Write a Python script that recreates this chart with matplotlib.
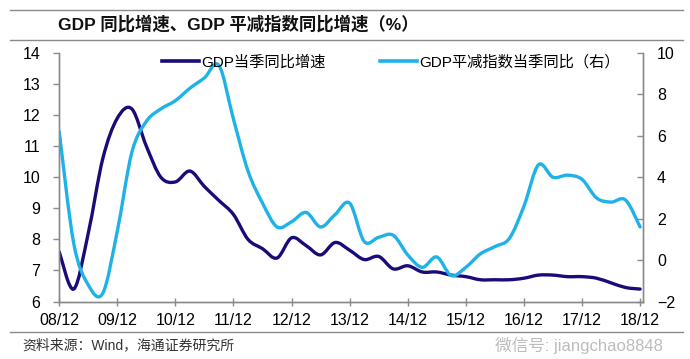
import matplotlib
matplotlib.use("Agg")
import matplotlib.pyplot as plt
from matplotlib.path import Path
from matplotlib.patches import PathPatch
from matplotlib.lines import Line2D

plt.rcParams['font.family'] = ['Liberation Sans', 'Noto Sans CJK SC', 'DejaVu Sans']

# ---- data (quarterly, 2008Q4 .. 2018Q4) ----
tick_labels = ["08/12", "09/12", "10/12", "11/12", "12/12", "13/12",
               "14/12", "15/12", "16/12", "17/12", "18/12"]
gdp_yoy = [7.6, 6.4, 8.2, 10.6, 11.9, 12.2, 11.0, 10.0, 9.85, 10.2, 9.7,
           9.25, 8.8, 8.0, 7.7, 7.4, 8.05, 7.8, 7.5, 7.9, 7.65, 7.35, 7.45,
           7.05, 7.15, 6.95, 6.95, 6.85, 6.8, 6.7, 6.7, 6.7, 6.75, 6.85,
           6.85, 6.8, 6.8, 6.75, 6.6, 6.45, 6.4]
deflator_yoy = [6.2, 0.8, -1.2, -1.6, 1.4, 5.2, 6.7, 7.3, 7.7, 8.3, 8.8,
                9.4, 6.8, 4.3, 2.75, 1.6, 1.85, 2.3, 1.6, 2.2, 2.75, 0.9,
                1.1, 1.2, 0.25, -0.35, 0.15, -0.75, -0.35, 0.3, 0.65, 1.05,
                2.6, 4.6, 4.0, 4.1, 3.9, 3.0, 2.8, 2.9, 1.6]
label_gdp = "GDP当季同比增速"
label_defl = "GDP平减指数当季同比（右）"
title = "GDP 同比增速、GDP 平减指数同比增速（%）"
source = "资料来源：Wind，海通证券研究所"
watermark = "微信号: jiangchao8848"

DARK = "#1a0c78"
CYAN = "#1fb2e6"
GRAY = "#8a8a8a"


def smooth_path(xs, ys):
    n = len(xs)
    verts = [(xs[0], ys[0])]
    codes = [Path.MOVETO]
    for i in range(n - 1):
        p0 = i - 1 if i > 0 else i
        p3 = i + 2 if i + 2 < n else i + 1
        c1 = (xs[i] + (xs[i + 1] - xs[p0]) / 6.0, ys[i] + (ys[i + 1] - ys[p0]) / 6.0)
        c2 = (xs[i + 1] - (xs[p3] - xs[i]) / 6.0, ys[i + 1] - (ys[p3] - ys[i]) / 6.0)
        verts += [c1, c2, (xs[i + 1], ys[i + 1])]
        codes += [Path.CURVE4] * 3
    return Path(verts, codes)


W, H = 690, 359
fig = plt.figure(figsize=(W / 100, H / 100), dpi=100)
ax = fig.add_axes([58.5 / W, 1 - 301.5 / H, (643 - 58.5) / W, (301.5 - 53) / H])
ax2 = ax.twinx()

x = list(range(len(gdp_yoy)))
ax.add_patch(PathPatch(smooth_path(x, gdp_yoy), fill=False, edgecolor=DARK,
                       lw=2.4, capstyle='round', joinstyle='round'))
ax2.add_patch(PathPatch(smooth_path(x, deflator_yoy), fill=False, edgecolor=CYAN,
                        lw=2.4, capstyle='round', joinstyle='round'))

ax.set_xlim(-0.05, 40.2)
ax.set_ylim(6, 14)
ax2.set_ylim(-2, 10)
ax.set_yticks(range(6, 15))
ax2.set_yticks(range(-2, 11, 2))
ax.set_xticks(range(0, 41, 4))
ax.set_xticklabels(tick_labels)

for a in (ax, ax2):
    a.spines['top'].set_visible(False)
    for s in ('left', 'right', 'bottom'):
        a.spines[s].set_color(GRAY)
        a.spines[s].set_linewidth(1.0)

ax.tick_params(axis='y', direction='out', length=4, width=1, color=GRAY,
               labelsize=11.5, pad=9)
ax.tick_params(axis='x', direction='inout', length=6, width=1, color=GRAY,
               labelsize=11.5, pad=5)
ax2.tick_params(axis='y', direction='in', length=4, width=1, color=GRAY,
                labelsize=11.5, pad=10)

handles = [Line2D([], [], color=DARK, lw=2.6), Line2D([], [], color=CYAN, lw=2.6)]
fig.legend(handles, [label_gdp, label_defl], loc='center left',
           bbox_to_anchor=(162 / W, 1 - 62 / H), ncol=2, frameon=False,
           handlelength=2.4, handletextpad=0.15, columnspacing=3.6,
           borderpad=0, borderaxespad=0, fontsize=11)

fig.text(58 / W, 1 - 24 / H, title, fontsize=12.5, fontweight='bold',
         ha='left', va='center', color='#111111')
for yy in (10, 40, 332):
    fig.add_artist(Line2D([10 / W, 683 / W], [1 - yy / H] * 2, color=GRAY,
                          lw=1.0, transform=fig.transFigure))
fig.text(22 / W, 1 - 345 / H, source, fontsize=10, ha='left', va='center',
         color='#333333')
fig.text(495 / W, 1 - 345 / H, watermark, fontsize=12,
         ha='left', va='center', color='#a0a0a0', alpha=0.7)

fig.savefig("out.png", dpi=100)
